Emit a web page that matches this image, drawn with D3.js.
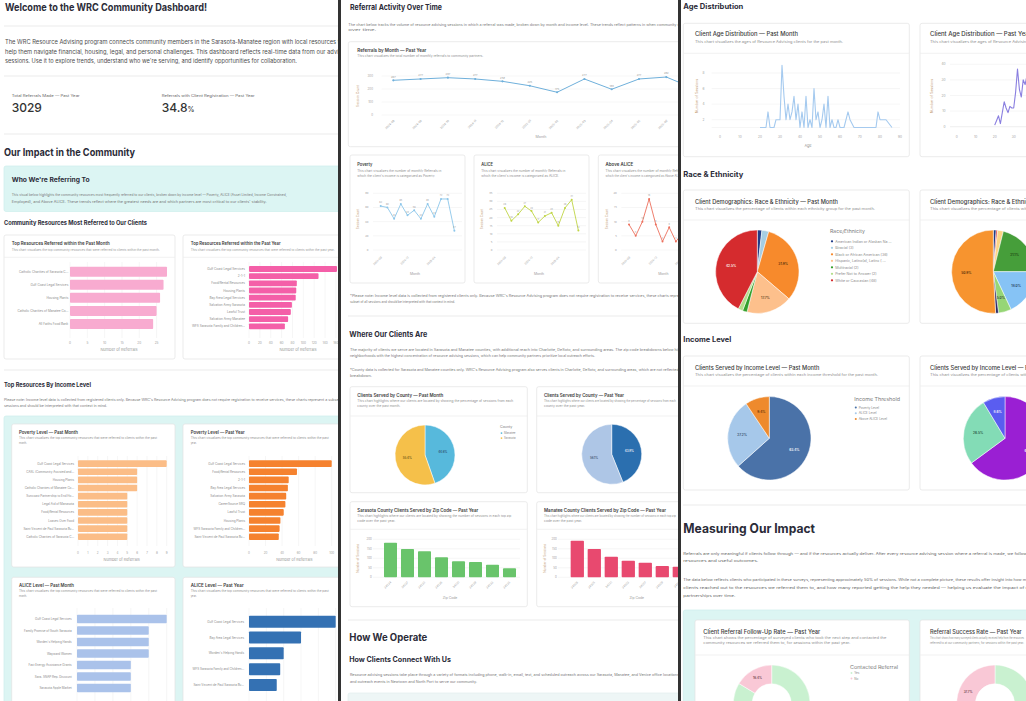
<!DOCTYPE html>
<html><head><meta charset="utf-8">
<script src="https://cdn.jsdelivr.net/npm/d3@7"></script>
<style>
html,body{margin:0;padding:0;background:#fff;}
svg{display:block;font-family:Inter,"Noto Sans",sans-serif;}
</style></head><body>
<svg id="chart" width="1026" height="701"></svg>
<script>
// ================= DATA =================
// Panel 1
const welcomeTitle = "Welcome to the WRC Community Dashboard!";
const introLines = [
  "The WRC Resource Advising program connects community members in the Sarasota-Manatee region with local resources to",
  "help them navigate financial, housing, legal, and personal challenges. This dashboard reflects real-time data from our advising",
  "sessions. Use it to explore trends, understand who we're serving, and identify opportunities for collaboration."
];
const kpiTitles = ["Total Referrals Made — Past Year", "Referrals with Client Registration — Past Year"];
const kpiValues = ["3029", "34.8"];
const kpiUnits = ["", "%"];
const whoLines = [
  "This visual below highlights the community resources most frequently referred to our clients, broken down by income level — Poverty, ALICE (Asset Limited, Income Constrained,",
  "Employed), and Above ALICE. These trends reflect where the greatest needs are and which partners are most critical to our clients' stability."
];
const incomeNoteLines = [
  "Please note: Income level data is collected from registered clients only. Because WRC's Resource Advising program does not require registration to receive services, these charts represent a subset of all",
  "sessions and should be interpreted with that context in mind."
];
const topMonthResources = ["Catholic Charities of Sarasota C...", "Gulf Coast Legal Services", "Housing Plants", "Catholic Charities of Manatee Co...", "All Faiths Food Bank"];
const topMonthReferrals = [28, 27, 26, 25, 24];
const topMonthTicks = [0, 5, 10, 15, 20, 25];

const topYearResources = ["Gulf Coast Legal Services", "2-1-1", "Food/Rental Resources", "Housing Plants", "Bay Area Legal Services", "Salvation Army Sarasota", "Lawful Trust", "Salvation Army Manatee", "WFS Sarasota Family and Children..."];
const topYearReferrals = [162, 128, 88, 87, 86, 79, 77, 72, 66];
const topYearTicks = [0, 20, 40, 60, 80, 100, 120, 140, 160];

const povertyMonthResources = ["Gulf Coast Legal Services", "CASL (Community Assisted and...", "Housing Plants ", "Catholic Charities of Manatee Co...", "Suncoast Partnership to End Ho...", "Legal Aid of Manasota", "Food/Rental Resources", "Loaves Over Food", "Saint Vincent de Paul Sarasota Bu...", "Catholic Charities of Sarasota C..."];
const povertyMonthReferrals = [9, 6, 6, 6, 5, 5, 5, 5, 5, 5];
const povertyMonthTicks = [0, 1, 2, 3, 4, 5, 6, 7, 8, 9];

const povertyYearResources = ["Gulf Coast Legal Services", "Food/Rental Resources", "2-1-1", "Bay Area Legal Services", "Salvation Army Sarasota", "CareerSource SRQ", "Lawful Trust", "Housing Plants", "WFS Sarasota Family and Children...", "Saint Vincent de Paul Sarasota Bu..."];
const povertyYearReferrals = [100, 58, 48, 47, 45, 44, 42, 38, 37, 36];
const povertyYearTicks = [0, 20, 40, 60, 80, 100];

const aliceMonthResources = ["Gulf Coast Legal Services", "Family Promise of South Sarasota", "Worden's Helping Hands", "Wayward Women", "Fast Energy Assistance Grants", "Sara. SNAP Rep. Discount", "Sarasota Apple Market"];
const aliceMonthReferrals = [5, 4, 4, 4, 3, 3, 3];
const aliceMonthTicks = [0, 1, 2, 3, 4, 5];

const aliceYearResources = ["Gulf Coast Legal Services", "Bay Area Legal Services", "Worden's Helping Hands", "WFS Sarasota Family and Children...", "Saint Vincent de Paul Sarasota Bu..."];
const aliceYearReferrals = [25, 15, 10, 9, 8];
const aliceYearTicks = [0, 5, 10, 15, 20, 25];

// Panel 2
const activityLines = [
  "The chart below tracks the volume of resource advising sessions in which a referral was made, broken down by month and income level. These trends reflect patterns in when community needs",
  "over time."
];
const referralMonths = ["2024-08", "2024-09", "2024-10", "2024-11", "2024-12", "2025-01", "2025-02", "2025-03", "2025-04", "2025-05", "2025-06", "2025-07"];
const referralCounts = [267, 277, 287, 277, 259, 225, 175, 277, 198, 277, 292, 205];
const referralTicks = [0, 100, 200, 300];

const incomeMonths = ["2024-08", "2024-09", "2024-10", "2024-11", "2024-12", "2025-01", "2025-02", "2025-03", "2025-04", "2025-05", "2025-06", "2025-07"];
const povertyMonthly = [62, 60, 44, 65, 49, 56, 44, 65, 47, 72, 72, 27];
const aliceMonthly = [26, 18, 22, 27, 24, 17, 21, 23, 15, 26, 31, 12];
const aboveAliceMonthly = [9, 5, 10, 18, 9, 3, 8, 3, 6, 4, 7, 2];
const povertyMonthlyTicks = [0, 20, 40, 60, 80];
const aliceMonthlyTicks = [0, 5, 10, 15, 20, 25, 30, 35];
const aboveAliceMonthlyTicks = [0, 5, 10, 15, 20];

const incomeNote2Lines = [
  "*Please note: Income level data is collected from registered clients only. Because WRC's Resource Advising program does not require registration to receive services, these charts represent a",
  "subset of all sessions and should be interpreted with that context in mind."
];
const whereLines = [
  "The majority of clients we serve are located in Sarasota and Manatee counties, with additional reach into Charlotte, DeSoto, and surrounding areas. The zip code breakdowns below highlight",
  "neighborhoods with the highest concentration of resource advising sessions, which can help community partners prioritize local outreach efforts.",
  "*County data is collected for Sarasota and Manatee counties only. WRC's Resource Advising program also serves clients in Charlotte, DeSoto, and surrounding areas, which are not reflected in this",
  "breakdown."
];
const counties = ["Manatee", "Sarasota"];
const countyMonthSessions = [54, 67];
const countyYearSessions = [620, 792];

const sarasotaZips = ["34234", "34237", "34232", "34236", "34231", "34239", "34233", "34235"];
const sarasotaZipSessions = [182, 149, 137, 105, 84, 80, 66, 47];
const manateeZips = ["34208", "34205", "34221", "34203", "34207", "34209", "34211", "34212"];
const manateeZipSessions = [193, 149, 108, 87, 77, 59, 56, 45];
const zipTicks = [0, 50, 100, 150, 200];

const connectLines = [
  "Resource advising sessions take place through a variety of formats including phone, walk-in, email, text, and scheduled outreach across our Sarasota, Manatee, and Venice office locations,",
  "and outreach events in Newtown and North Port to serve our community."
];

// Panel 3
const ageMonthAges = [20,22,23,24,25,27,28,29,30,31,32,33,34,35,36,37,38,39,40,41,42,43,44,45,46,47,48,49,50,51,52,53,54,55,56,57,58,59,60,62,64,65,67,70,72,75,78,79,80,83,86];
const ageMonthCounts = [1,1,1,3,1,1,2,2,2,9,5,2,4,2,3,5,2,4,1,3,1,5,1,2,1,6,2,3,1,2,4,1,5,1,2,1,1,2,1,1,3,2,1,1,1,1,1,3,2,2,1];
const ageYearAges = [20,21,22,23,24,25,26,27,28,29,30,31,32,33,34,35,36,37,38,39,40];
const ageYearCounts = [1,4,7,2,9,16,12,9,13,12,12,22,37,24,19,30,27,33,28,35,30];
const ageTicks = [0, 10, 20, 30, 40, 50, 60, 70, 80, 90];
const ageMonthYTicks = [2, 4, 6, 8];
const ageYearYTicks = [0, 10, 20, 30, 40];

const raceMonthGroups = ["American Indian or Alaskan Native", "Biracial", "Black or African American", "Hispanic, Latino(a), Latinx", "Multiracial", "Prefer Not to Answer", "White or Caucasian"];
const raceMonthCounts = [2, 3, 36, 20, 2, 2, 48];
const raceYearGroups = ["American Indian or Alaskan Native", "Asian", "Biracial", "Black or African American", "Hispanic, Latino(a), Latinx", "Multiracial", "Prefer Not to Answer", "White or Caucasian"];
const raceYearCounts = [10, 5, 20, 190, 162, 45, 10, 458];

const incomeGroups = ["Poverty Level", "ALICE Level", "Above ALICE Level"];
const incomeMonthClients = [135, 58, 20];
const incomeYearClients = [1250, 510, 166];

const measureLines = [
  "Referrals are only meaningful if clients follow through — and if the resources actually deliver. After every resource advising session where a referral is made, we follow up",
  "resources and useful outcomes.",
  "The data below reflects clients who participated in these surveys, representing approximately 50% of sessions. While not a complete picture, these results offer insight into how many",
  "clients reached out to the resources we referred them to, and how many reported getting the help they needed — helping us evaluate the impact of our",
  "partnerships over time."
];
const contactedLabels = ["Yes", "No"];
const followUpCounts = [271, 53];
const successCounts = [195, 118];

// ================= DRAWING =================
const HEAD = '#2b2b38', BODY = '#4d4d4d', MUTED = '#8f8f8f', YT = '#c7a47e';
const svg = d3.select('#chart');
const defs = svg.append('defs');
function panel(id, x, w) {
  defs.append('clipPath').attr('id', id).append('rect').attr('x', x).attr('y', 0).attr('width', w).attr('height', 701);
  return svg.append('g').attr('clip-path', `url(#${id})`);
}
svg.append('rect').attr('width', 1026).attr('height', 701).attr('fill', '#fff');
const P1 = panel('p1', 0, 338), P2 = panel('p2', 341, 337), P3 = panel('p3', 681, 345);
svg.append('rect').attr('x', 338).attr('y', 0).attr('width', 3).attr('height', 701).attr('fill', '#333');
svg.append('rect').attr('x', 678).attr('y', 0).attr('width', 3).attr('height', 701).attr('fill', '#333');

function T(g, x, y, s, o = {}) {
  const t = g.append('text').attr('x', x).attr('y', y).text(s)
    .attr('font-size', o.size || 4).attr('fill', o.fill || MUTED).attr('font-weight', o.weight || 400);
  if (o.w) t.attr('textLength', o.w).attr('lengthAdjust', 'spacingAndGlyphs');
  if (o.anchor) t.attr('text-anchor', o.anchor);
  if (o.rotate != null) t.attr('transform', `rotate(${o.rotate},${x},${y})`);
  return t;
}
function rule(g, x1, x2, y, c) {
  g.append('line').attr('x1', x1).attr('x2', x2).attr('y1', y).attr('y2', y).attr('stroke', c || '#e6e6e6').attr('stroke-width', 0.8);
}
function box(g, x, y, w, h, fill, stroke) {
  return g.append('rect').attr('x', x).attr('y', y).attr('width', w).attr('height', h).attr('rx', 2)
    .attr('fill', fill || '#fff').attr('stroke', stroke || '#e2e2e2').attr('stroke-width', 0.7);
}
function lines(g, x, ys, arr, size, ws, fill) {
  arr.forEach((s, i) => T(g, x, ys[i], s, { size, w: ws[i], fill: fill || BODY }));
}

function hbar(g, o) {
  const x = d3.scaleLinear().domain([0, o.max]).range([o.x0, o.x1]);
  const y = d3.scaleBand().domain(o.labels).range(o.yr).paddingInner(o.pad).paddingOuter(o.pad / 2);
  g.append('g').selectAll('line').data(o.ticks).join('line')
    .attr('x1', d => x(d)).attr('x2', d => x(d)).attr('y1', o.g0).attr('y2', o.g1)
    .attr('stroke', '#ececec').attr('stroke-width', 0.5);
  g.append('g').selectAll('rect').data(o.values).join('rect')
    .attr('x', x(0)).attr('y', (d, i) => y(o.labels[i]))
    .attr('width', d => x(d) - x(0)).attr('height', y.bandwidth())
    .attr('fill', o.color).attr('rx', 0.8);
  g.append('g').selectAll('text').data(o.labels).join('text')
    .attr('x', o.lx).attr('y', d => y(d) + y.bandwidth() / 2).attr('dy', '0.35em')
    .attr('text-anchor', 'end').attr('font-size', o.fs).attr('fill', '#8a8a8a').text(d => d.trim());
  if (o.ty != null) {
    g.append('g').selectAll('text').data(o.ticks).join('text')
      .attr('x', d => x(d)).attr('y', o.ty).attr('text-anchor', 'middle')
      .attr('font-size', o.fs).attr('fill', '#a0a0a0').text(d => d);
    T(g, o.tx, o.tt, 'Number of Referrals', { size: o.fs + 0.8, anchor: 'middle', fill: '#9a9a9a' });
  }
}

function lineChart(g, o) {
  const x = d3.scalePoint().domain(o.cats).range([o.x0, o.x0 + o.step * (o.cats.length - 1)]);
  const y = d3.scaleLinear().domain(o.yd).range(o.yr);
  g.append('g').selectAll('line').data(o.yt).join('line')
    .attr('x1', o.gx0).attr('x2', o.gx1).attr('y1', d => y(d)).attr('y2', d => y(d))
    .attr('stroke', '#ececec').attr('stroke-width', 0.5);
  g.append('g').selectAll('text').data(o.yt).join('text')
    .attr('x', o.ylx).attr('y', d => y(d)).attr('dy', '0.35em').attr('text-anchor', 'end')
    .attr('font-size', o.fs).attr('fill', '#a0a0a0').text(d => d);
  const line = d3.line().x((d, i) => x(o.cats[i])).y(d => y(d));
  g.append('path').datum(o.values).attr('d', line).attr('fill', 'none')
    .attr('stroke', o.color).attr('stroke-width', o.sw || 1);
  g.append('g').selectAll('circle').data(o.values).join('circle')
    .attr('cx', (d, i) => x(o.cats[i])).attr('cy', d => y(d)).attr('r', o.r)
    .attr('fill', o.color);
  g.append('g').selectAll('text').data(o.values).join('text')
    .attr('x', (d, i) => x(o.cats[i])).attr('y', d => y(d) - 2.6).attr('text-anchor', 'middle')
    .attr('font-size', o.vfs).attr('fill', '#9a9a9a').text(d => d);
  const xl = o.cats.filter((c, i) => i % o.every === 0);
  g.append('g').selectAll('text').data(xl).join('text')
    .attr('x', d => x(d) + 1.5).attr('y', o.xly).attr('text-anchor', 'end')
    .attr('transform', d => `rotate(-45,${x(d) + 1.5},${o.xly})`)
    .attr('font-size', o.fs).attr('fill', '#a0a0a0').text(d => d);
  T(g, o.mx, o.my, 'Month', { size: o.fs + 0.7, anchor: 'middle', fill: '#9a9a9a' });
  T(g, o.ytx, o.yty, 'Session Count', { size: o.fs + 0.3, anchor: 'middle', fill: YT, rotate: -90 });
}

function ageChart(g, o) {
  const x = d3.scaleLinear().domain([0, 90]).range(o.xr);
  const y = d3.scaleLinear().domain(o.yd).range(o.yr);
  g.append('g').selectAll('line').data(o.yt.concat([o.yd[0]])).join('line')
    .attr('x1', o.gx0).attr('x2', o.gx1).attr('y1', d => y(d)).attr('y2', d => y(d))
    .attr('stroke', '#ececec').attr('stroke-width', 0.5);
  g.append('g').selectAll('text').data(o.yt).join('text')
    .attr('x', o.ylx).attr('y', d => y(d)).attr('dy', '0.35em').attr('text-anchor', 'end')
    .attr('font-size', 3.2).attr('fill', '#a0a0a0').text(d => d);
  g.append('g').selectAll('text').data(ageTicks.filter(d => x(d) < o.xmax)).join('text')
    .attr('x', d => x(d)).attr('y', o.xty).attr('text-anchor', 'middle')
    .attr('font-size', 3.2).attr('fill', '#a0a0a0').text(d => d);
  const line = d3.line().x((d, i) => x(o.ages[i])).y(d => y(d));
  g.append('path').datum(o.counts).attr('d', line).attr('fill', 'none')
    .attr('stroke', o.color).attr('stroke-width', 1.1).attr('stroke-linejoin', 'round');
  if (o.ax < o.xmax) T(g, o.ax, o.ay, 'Age', { size: 3.8, anchor: 'middle', fill: '#9a9a9a' });
  T(g, o.ytx, o.yty, 'Number of Sessions', { size: 3.6, anchor: 'middle', fill: YT, rotate: -90 });
}

function pie(g, o) {
  const total = d3.sum(o.values);
  const arcs = d3.pie().sort(null).value(d => d)(o.values);
  const arc = d3.arc().innerRadius(o.ir || 0).outerRadius(o.r);
  const la = d3.arc().innerRadius(o.lr).outerRadius(o.lr);
  const gg = g.append('g').attr('transform', `translate(${o.cx},${o.cy})`);
  gg.selectAll('path').data(arcs).join('path').attr('d', arc)
    .attr('fill', d => o.colors[d.index]).attr('stroke', '#fff').attr('stroke-width', 0.5);
  gg.selectAll('text').data(arcs.filter(d => d.value / total >= 0.05 && o.cy + la.centroid(d)[1] < 698)).join('text')
    .attr('transform', d => `translate(${la.centroid(d)})`).attr('text-anchor', 'middle').attr('dy', '0.35em')
    .attr('font-size', o.fs).attr('font-weight', 600)
    .attr('fill', d => o.lc[d.index]).text(d => (d.value / total * 100).toFixed(1) + '%');
}

function legend(g, x, y, title, labels, colors, o) {
  T(g, x, y, title, { size: o.ts, fill: '#7a7a7a', w: o.tw });
  const lg = g.append('g');
  lg.selectAll('circle').data(labels).join('circle')
    .attr('cx', x + o.dx).attr('cy', (d, i) => y + o.y0 + i * o.dy - o.fs * 0.33).attr('r', o.fs * 0.32)
    .attr('fill', (d, i) => colors[i]);
  lg.selectAll('text').data(labels).join('text')
    .attr('x', x + o.dx + o.fs * 0.9).attr('y', (d, i) => y + o.y0 + i * o.dy)
    .attr('font-size', o.fs).attr('fill', '#8a8a8a').text(d => d);
}

function vbars(g, o) {
  const x = d3.scaleBand().domain(o.cats).range(o.xr).paddingInner(o.pad).paddingOuter(o.pad / 2);
  const y = d3.scaleLinear().domain([0, 200]).range(o.yr);
  g.append('g').selectAll('line').data(zipTicks).join('line')
    .attr('x1', o.gx0).attr('x2', o.gx1).attr('y1', d => y(d)).attr('y2', d => y(d))
    .attr('stroke', '#ececec').attr('stroke-width', 0.5);
  g.append('g').selectAll('text').data(zipTicks).join('text')
    .attr('x', o.ylx).attr('y', d => y(d)).attr('dy', '0.35em').attr('text-anchor', 'end')
    .attr('font-size', 2.8).attr('fill', '#a0a0a0').text(d => d);
  g.append('g').selectAll('rect').data(o.values).join('rect')
    .attr('x', (d, i) => x(o.cats[i])).attr('y', d => y(d)).attr('width', x.bandwidth())
    .attr('height', d => y(0) - y(d)).attr('fill', o.color).attr('rx', 0.8);
  g.append('g').selectAll('text.z').data(o.cats.filter(d => x(d) < o.xmax)).join('text')
    .attr('x', d => x(d) + x.bandwidth() / 2 + 1).attr('y', o.xly).attr('text-anchor', 'end')
    .attr('transform', d => `rotate(-45,${x(d) + x.bandwidth() / 2 + 1},${o.xly})`)
    .attr('font-size', 2.8).attr('fill', '#a0a0a0').text(d => d);
  T(g, o.zx, o.zy, 'Zip Code', { size: 3.4, anchor: 'middle', fill: '#9a9a9a' });
  T(g, o.ytx, o.yty, 'Number of Sessions', { size: 3, anchor: 'middle', fill: YT, rotate: -90 });
}

// ---------------- PANEL 1 ----------------
{
  const g = P1;
  T(g, 5, 11, welcomeTitle, { size: 10.5, weight: 700, fill: HEAD, w: 202 });
  rule(g, 4, 338, 26);
  lines(g, 5, [44.3, 53.7, 62.7], introLines, 5.5, [338, 345, 292]);
  rule(g, 4, 338, 76);
  T(g, 11.7, 97.2, kpiTitles[0], { size: 3.6, fill: '#666', w: 68 });
  T(g, 161.7, 97.2, kpiTitles[1], { size: 3.6, fill: '#666', w: 93 });
  T(g, 11.7, 112.3, kpiValues[0] + kpiUnits[0], { size: 12, weight: 500, fill: '#333' });
  const kv = T(g, 161.7, 112.3, kpiValues[1], { size: 12, weight: 500, fill: '#333' });
  kv.append('tspan').attr('font-size', 7).text(kpiUnits[1]);
  rule(g, 4, 338, 134);
  T(g, 4, 155.5, "Our Impact in the Community", { size: 10.5, weight: 700, fill: HEAD, w: 131 });
  box(g, 4, 166, 340, 45.5, '#dcf5f3', '#cdeeed');
  T(g, 11.7, 181.5, "Who We're Referring To", { size: 6.5, weight: 700, fill: HEAD, w: 78 });
  lines(g, 11.7, [196.3, 202.6], whoLines, 3.5, [275, 255], '#777');
  T(g, 4, 224.7, "Community Resources Most Referred to Our Clients", { size: 6, weight: 700, fill: HEAD, w: 143 });

  box(g, 4, 235, 171, 124);
  box(g, 183, 235, 170, 124);
  T(g, 11.7, 245.3, "Top Resources Referred within the Past Month", { size: 4.4, weight: 600, fill: '#3a3a3a', w: 98 });
  T(g, 11.7, 250.5, "This chart visualizes the top community resources that were referred to clients within the past month.", { size: 3, w: 148, fill: '#9a9a9a' });
  rule(g, 4, 175, 257.3, '#eeeeee');
  T(g, 190.7, 245.3, "Top Resources Referred within the Past Year", { size: 4.4, weight: 600, fill: '#3a3a3a', w: 90 });
  T(g, 190.7, 250.5, "This chart visualizes the top community resources that were referred to clients within the past year.", { size: 3, w: 144, fill: '#9a9a9a' });
  rule(g, 183, 338, 257.3, '#eeeeee');
  hbar(g, { labels: topMonthResources, values: topMonthReferrals, max: 28, x0: 70, x1: 167, yr: [265.2, 330.5], pad: 0.235,
    ticks: topMonthTicks, g0: 262, g1: 338, lx: 68.3, ty: 343.5, tx: 119, tt: 350.5, fs: 3.1, color: '#f8abd0' });
  hbar(g, { labels: topYearResources, values: topYearReferrals, max: 162, x0: 249, x1: 337, yr: [265.4, 329.9], pad: 0.19,
    ticks: topYearTicks, g0: 262, g1: 338, lx: 245, ty: 343.5, tx: 298, tt: 350.5, fs: 3.1, color: '#f45fa8' });

  rule(g, 4, 338, 370);
  T(g, 4, 387, "Top Resources By Income Level", { size: 6, weight: 700, fill: HEAD, w: 87 });
  lines(g, 4, [401.2, 407.4], incomeNoteLines, 3.4, [345, 103], '#777');
  box(g, 4, 416, 340, 300, '#dcf5f3', '#cdeeed');

  box(g, 11.7, 424, 163.3, 143);
  box(g, 183, 424, 170, 143);
  T(g, 19, 433.8, "Poverty Level — Past Month", { size: 4.4, weight: 600, fill: '#3a3a3a', w: 59 });
  T(g, 19, 439, "This chart visualizes the top community resources that were referred to clients within the past", { size: 3, w: 138 });
  T(g, 19, 444, "month.", { size: 3, w: 8 });
  T(g, 190.7, 433.8, "Poverty Level — Past Year", { size: 4.4, weight: 600, fill: '#3a3a3a', w: 54 });
  T(g, 190.7, 439, "This chart visualizes the top community resources that were referred to clients within the past", { size: 3, w: 138 });
  T(g, 190.7, 444, "year.", { size: 3, w: 6 });
  hbar(g, { labels: povertyMonthResources, values: povertyMonthReferrals, max: 9, x0: 78, x1: 166.7, yr: [459.6, 540.8], pad: 0.19,
    ticks: povertyMonthTicks, g0: 456, g1: 546, lx: 74, ty: 553.5, tx: 121.7, tt: 560.5, fs: 3, color: '#fbbd87' });
  hbar(g, { labels: povertyYearResources, values: povertyYearReferrals, max: 100, x0: 249, x1: 331.7, yr: [459.6, 540.8], pad: 0.19,
    ticks: povertyYearTicks, g0: 456, g1: 546, lx: 245, ty: 553.5, tx: 294.3, tt: 560.5, fs: 3, color: '#f5822f' });

  box(g, 11.7, 577.3, 163.3, 140);
  box(g, 183, 577.3, 170, 140);
  T(g, 19, 587.2, "ALICE Level — Past Month", { size: 4.4, weight: 600, fill: '#3a3a3a', w: 55 });
  T(g, 19, 592.3, "This chart visualizes the top community resources that were referred to clients within the past", { size: 3, w: 138 });
  T(g, 19, 597.3, "month.", { size: 3, w: 8 });
  T(g, 190.7, 587.2, "ALICE Level — Past Year", { size: 4.4, weight: 600, fill: '#3a3a3a', w: 53 });
  T(g, 190.7, 592.3, "This chart visualizes the top community resources that were referred to clients within the past", { size: 3, w: 138 });
  T(g, 190.7, 597.3, "year.", { size: 3, w: 6 });
  // tick labels of these two charts fall below the visible area, as in the reference
  hbar(g, { labels: aliceMonthResources, values: aliceMonthReferrals, max: 5, x0: 77, x1: 166.7, yr: [613.25, 693.75], pad: 0.26,
    ticks: aliceMonthTicks, g0: 608, g1: 701, lx: 71.7, ty: null, fs: 3, color: '#aac2ea' });
  hbar(g, { labels: aliceYearResources, values: aliceYearReferrals, max: 25, x0: 249, x1: 335.7, yr: [613.8, 692.9], pad: 0.24,
    ticks: aliceYearTicks, g0: 608, g1: 701, lx: 244, ty: null, fs: 3, color: '#3471b3' });
}

// ---------------- PANEL 2 ----------------
{
  const g = P2;
  T(g, 350, 10, "Referral Activity Over Time", { size: 8, weight: 700, fill: HEAD, w: 92 });
  lines(g, 348.3, [25.5, 31.2], activityLines, 3.4, [340, 28], '#777');
  box(g, 348.3, 41.7, 345, 105);
  T(g, 357.3, 52, "Referrals by Month — Past Year", { size: 4.6, weight: 600, fill: '#3a3a3a', w: 69 });
  T(g, 357.3, 57, "This chart visualizes the total number of monthly referrals to community partners.", { size: 3, w: 126 });
  lineChart(g, { cats: referralMonths, values: referralCounts, x0: 393.3, step: 27.3, yd: [0, 300], yr: [115, 76], yt: referralTicks,
    gx0: 381.7, gx1: 700, ylx: 373, color: '#6fb0db', sw: 1, r: 1.1, vfs: 2.6, every: 1, xly: 121, fs: 2.9,
    mx: 541, my: 138, ytx: 359, yty: 96 });

  const small = [
    { x: 350, title: "Poverty", tw: 15, vals: povertyMonthly, yd: [0, 80], yt: povertyMonthlyTicks, color: '#8cc6ea', word: 'Poverty.' },
    { x: 474, title: "ALICE", tw: 11.7, vals: aliceMonthly, yd: [0, 35], yt: aliceMonthlyTicks, color: '#c0d545', word: 'ALICE.' },
    { x: 598.3, title: "Above ALICE", tw: 27.7, vals: aboveAliceMonthly, yd: [0, 20], yt: aboveAliceMonthlyTicks, color: '#ec6f5c', word: 'Above ALICE.' }
  ];
  small.forEach(c => {
    box(g, c.x, 155, 115, 128);
    T(g, c.x + 7.3, 166, c.title, { size: 4.6, weight: 600, fill: '#3a3a3a', w: c.tw });
    T(g, c.x + 7.3, 171.5, "This chart visualizes the number of monthly Referrals in", { size: 2.9, w: 84 });
    T(g, c.x + 7.3, 176.5, "which the client's income is categorized as " + c.word, { size: 2.9, w: 78 });
    lineChart(g, { cats: incomeMonths, values: c.vals, x0: c.x + 30.7, step: 6.7, yd: c.yd, yr: [250, 193.3], yt: c.yt,
      gx0: c.x + 23, gx1: c.x + 112, ylx: c.x + 18.5, color: c.color, sw: 0.9, r: 1, vfs: 2.2, every: 4, xly: 257.5, fs: 2.7,
      mx: c.x + 65, my: 274.5, ytx: c.x + 9.3, yty: 219 });
  });
  lines(g, 350, [296.5, 302.8], incomeNote2Lines, 3.3, [340, 105], '#777');
  rule(g, 348, 678, 316);

  T(g, 349.3, 336.5, "Where Our Clients Are", { size: 7.5, weight: 700, fill: HEAD, w: 78 });
  lines(g, 350, [351.2, 357, 371, 377.2], whereLines, 3.4, [340, 245, 340, 22], '#777');

  box(g, 350, 386.7, 177.3, 106);
  box(g, 536.7, 386.7, 177, 106);
  T(g, 357.3, 397, "Clients Served by County — Past Month", { size: 4.6, weight: 600, fill: '#3a3a3a', w: 86 });
  T(g, 357.3, 402.2, "This chart highlights where our clients are located by showing the percentage of sessions from each", { size: 3, w: 156 });
  T(g, 357.3, 407.2, "county over the past month.", { size: 3, w: 43 });
  rule(g, 350, 527.3, 416, '#eeeeee');
  T(g, 544, 397, "Clients Served by County — Past Year", { size: 4.6, weight: 600, fill: '#3a3a3a', w: 80 });
  T(g, 544, 402.2, "This chart highlights where our clients are located by showing the percentage of sessions from each", { size: 3, w: 132 });
  T(g, 544, 407.2, "county over the past year.", { size: 3, w: 41 });
  rule(g, 536.7, 713, 416, '#eeeeee');
  pie(g, { values: countyMonthSessions, colors: ['#57b9dc', '#f5c04a'], lc: ['#2d4a66', '#6b4d10'], cx: 425, cy: 455, r: 30, lr: 18, fs: 2.8 });
  pie(g, { values: countyYearSessions, colors: ['#2b6faf', '#aec6e6'], lc: ['#ffffff', '#3d4f66'], cx: 611.7, cy: 454.3, r: 30, lr: 18, fs: 2.8 });
  legend(g, 500, 427.5, "County", counties, ['#57b9dc', '#f5c04a'], { ts: 3.6, fs: 2.8, y0: 6.5, dy: 5, dx: 1.5 });

  box(g, 350, 501.7, 177.3, 105);
  box(g, 536.7, 501.7, 177, 105);
  T(g, 357.3, 512, "Sarasota County Clients Served by Zip Code — Past Year", { size: 4.2, weight: 600, fill: '#3a3a3a', w: 121 });
  T(g, 357.3, 517.2, "This chart highlights where our clients are located by showing the number of sessions in each top zip", { size: 3, w: 154 });
  T(g, 357.3, 522.2, "code over the past year.", { size: 3, w: 38 });
  rule(g, 350, 527.3, 529.3, '#eeeeee');
  T(g, 544, 512, "Manatee County Clients Served by Zip Code — Past Year", { size: 4.2, weight: 600, fill: '#3a3a3a', w: 122 });
  T(g, 544, 517.2, "This chart highlights where our clients are located by showing the number of sessions in each top zip", { size: 3, w: 132 });
  T(g, 544, 522.2, "code over the past year.", { size: 3, w: 38 });
  rule(g, 536.7, 713, 529.3, '#eeeeee');
  vbars(g, { cats: sarasotaZips, values: sarasotaZipSessions, xr: [382, 518], pad: 0.235, yr: [577.3, 539.3], gx0: 373, gx1: 520,
    ylx: 371.7, color: '#69c46b', xly: 582.5, xmax: 676, zx: 450, zy: 598.5, ytx: 359.3, yty: 558.3 });
  vbars(g, { cats: manateeZips, values: manateeZipSessions, xr: [568.8, 704.8], pad: 0.22, yr: [577.3, 539.3], gx0: 558, gx1: 714,
    ylx: 556.7, color: '#e8496f', xly: 582.5, xmax: 676, zx: 636.7, zy: 598.5, ytx: 546, yty: 558.3 });

  rule(g, 348, 678, 620);
  T(g, 349.3, 641, "How We Operate", { size: 10, weight: 700, fill: HEAD, w: 78 });
  T(g, 349.3, 661.7, "How Clients Connect With Us", { size: 7, weight: 700, fill: HEAD, w: 101.7 });
  lines(g, 350, [676.2, 682.9], connectLines, 3.4, [330, 127], '#777');
  box(g, 348, 693, 345, 30, '#eef6f6', '#e2eeee');
}

// ---------------- PANEL 3 ----------------
{
  const g = P3;
  T(g, 683.3, 9, "Age Distribution", { size: 7, weight: 700, fill: HEAD, w: 60 });
  box(g, 683.3, 23.3, 226, 133.4);
  box(g, 920, 23.3, 226, 133.4);
  T(g, 695, 36, "Client Age Distribution — Past Month", { size: 5.6, weight: 500, fill: '#3a3a3a', w: 103 });
  T(g, 695, 42.8, "This chart visualizes the ages of Resource Advising clients for the past month.", { size: 3.2, w: 148 });
  rule(g, 683.3, 909.3, 53.3, '#eeeeee');
  T(g, 930, 36, "Client Age Distribution — Past Year", { size: 5.6, weight: 500, fill: '#3a3a3a', w: 101 });
  T(g, 930, 42.8, "This chart visualizes the ages of Resource Advising clients for the past year.", { size: 3.2, w: 146 });
  rule(g, 920, 1026, 53.3, '#eeeeee');
  ageChart(g, { ages: ageMonthAges, counts: ageMonthCounts, xr: [720, 900], yd: [1, 9], yr: [127.5, 65.2], yt: ageMonthYTicks,
    gx0: 711.7, gx1: 900, ylx: 704.5, xty: 137.5, xmax: 1030, color: '#a5caef', ax: 808, ay: 147, ytx: 698.3, yty: 96 });
  ageChart(g, { ages: ageYearAges, counts: ageYearCounts, xr: [956.7, 1127.7], yd: [0, 40], yr: [126.7, 64.3], yt: ageYearYTicks,
    gx0: 950, gx1: 1140, ylx: 945.5, xty: 137.5, xmax: 1026, color: '#8a7fe0', ax: 1040, ay: 147, ytx: 933.3, yty: 96 });

  T(g, 683.3, 176.5, "Race & Ethnicity", { size: 7, weight: 700, fill: HEAD, w: 60 });
  box(g, 683.3, 190, 226, 133.3);
  box(g, 920, 190, 226, 133.3);
  T(g, 695, 203.5, "Client Demographics: Race & Ethnicity — Past Month", { size: 5.6, weight: 500, fill: '#3a3a3a', w: 143 });
  T(g, 695, 209.6, "This chart visualizes the percentage of clients within each ethnicity group for the past month.", { size: 3.2, w: 180 });
  rule(g, 683.3, 909.3, 220, '#eeeeee');
  T(g, 930, 203.5, "Client Demographics: Race & Ethnicity — Past Year", { size: 5.6, weight: 500, fill: '#3a3a3a', w: 141 });
  T(g, 930, 209.6, "This chart visualizes the percentage of clients within each ethnicity group for the past year.", { size: 3.2, w: 178 });
  rule(g, 920, 1026, 220, '#eeeeee');
  const raceMonthColors = ['#1f3c88', '#a6cee3', '#f78a2c', '#fdc08c', '#33a02c', '#b2df8a', '#d52b2e'];
  pie(g, { values: raceMonthCounts, colors: raceMonthColors,
    lc: ['#fff', '#333', '#4a2a08', '#5a3a1a', '#fff', '#333', '#ffffff'], cx: 757.3, cy: 271.7, r: 41.7, lr: 27, fs: 3.2 });
  const raceYearColors = ['#1f3c88', '#d52b2e', '#fdd585', '#469e3a', '#86c3f5', '#96d676', '#2a2a6a', '#f7942f'];
  pie(g, { values: raceYearCounts, colors: raceYearColors,
    lc: ['#fff', '#fff', '#333', '#1d3d10', '#1d3550', '#333', '#fff', '#4a2a08'], cx: 993.3, cy: 271.7, r: 41.7, lr: 27, fs: 3.2 });
  const raceLegend = raceMonthGroups.map((s, i) => { const t = `${s} (${raceMonthCounts[i]})`; return t.length > 31 ? t.slice(0, 29) + ' ...' : t; });
  legend(g, 830, 233, "Race/Ethnicity", raceLegend, raceMonthColors, { ts: 4.6, fs: 3.6, y0: 9.5, dy: 6.5, dx: 2, tw: 35 });

  T(g, 683.3, 341.5, "Income Level", { size: 7, weight: 700, fill: HEAD, w: 48 });
  box(g, 683.3, 356, 226, 134);
  box(g, 920, 356, 226, 134);
  T(g, 695, 370, "Clients Served by Income Level — Past Month", { size: 5.6, weight: 500, fill: '#3a3a3a', w: 124.3 });
  T(g, 695, 375.6, "This chart visualizes the percentage of clients within each income threshold for the past month.", { size: 3.2, w: 183 });
  rule(g, 683.3, 909.3, 386, '#eeeeee');
  T(g, 930, 370, "Clients Served by Income Level — Past Year", { size: 5.6, weight: 500, fill: '#3a3a3a', w: 121 });
  T(g, 930, 375.6, "This chart visualizes the percentage of clients within each income threshold for the past year.", { size: 3.2, w: 181 });
  rule(g, 920, 1026, 386, '#eeeeee');
  const incomeMonthColors = ['#4a72a8', '#a6c8ea', '#ee8a2d'];
  pie(g, { values: incomeMonthClients, colors: incomeMonthColors, lc: ['#fff', '#2d4560', '#5a3008'], cx: 769.3, cy: 438.3, r: 41.7, lr: 27.5, fs: 3.2 });
  pie(g, { values: incomeYearClients, colors: ['#9a1fd3', '#83dcb6', '#5a5df0'], lc: ['#fff', '#1f4d3a', '#fff'], cx: 1005, cy: 438.3, r: 41.7, lr: 27.5, fs: 3.2 });
  legend(g, 854.3, 401, "Income Threshold", incomeGroups, incomeMonthColors, { ts: 4.6, fs: 3.2, y0: 7.5, dy: 5.8, dx: 1.5, tw: 45.7 });

  rule(g, 683, 1026, 505);
  T(g, 683.3, 533, "Measuring Our Impact", { size: 12.5, weight: 700, fill: HEAD, w: 131.7 });
  lines(g, 683.3, [554.5, 562, 581.3, 588.5, 596.5], measureLines, 3.5, [350, 75, 350, 350, 52], '#666');
  box(g, 683.3, 610, 360, 100, '#dcf5f3', '#cdeeed');
  box(g, 695, 620, 214.3, 100);
  box(g, 920, 620, 214, 100);
  T(g, 703.3, 633.5, "Client Referral Follow-Up Rate — Past Year", { size: 5.5, weight: 500, fill: '#3a3a3a', w: 117 });
  T(g, 703.3, 638.8, "This chart shows the percentage of surveyed clients who took the next step and contacted the", { size: 3.1, w: 183 });
  T(g, 703.3, 644.2, "community resources we referred them to, for sessions within the past year.", { size: 3.1, w: 147 });
  rule(g, 695, 909.3, 655, '#eeeeee');
  T(g, 930, 633.5, "Referral Success Rate — Past Year", { size: 5.5, weight: 500, fill: '#3a3a3a', w: 91.7 });
  T(g, 930, 638.8, "This chart shows how many surveyed clients actually received help from the resources", { size: 3.1, w: 94 });
  T(g, 930, 644.2, "referred to at our community partners, for sessions within the past year.", { size: 3.1, w: 94 });
  rule(g, 920, 1026, 655, '#eeeeee');
  const donutColors = ['#c9f1d0', '#f9c8d6'];
  pie(g, { values: followUpCounts, colors: donutColors, lc: ['#3a5a40', '#6a3a48'], cx: 771.7, cy: 703.3, r: 38.3, ir: 19.5, lr: 29, fs: 3 });
  pie(g, { values: successCounts, colors: donutColors, lc: ['#3a5a40', '#6a3a48'], cx: 995, cy: 703.3, r: 38.3, ir: 19.5, lr: 29, fs: 3 });
  legend(g, 850, 668.5, "Contacted Referral", contactedLabels, donutColors, { ts: 4.4, fs: 3, y0: 5.5, dy: 5.5, dx: 1.5, tw: 48 });
}
</script>
</body></html>
